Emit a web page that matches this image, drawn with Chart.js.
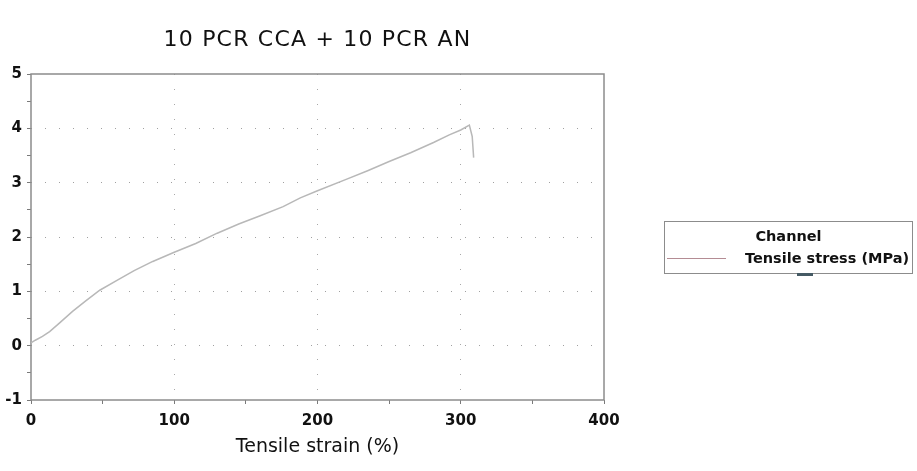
<!DOCTYPE html>
<html>
<head>
<meta charset="utf-8">
<script src="https://cdn.jsdelivr.net/npm/chart.js@4.4.1/dist/chart.umd.min.js"></script>
<style>
  body { margin: 0; background: #fff; font-family: "DejaVu Sans", sans-serif; }
  #wrap { position: relative; width: 917px; height: 471px; }
  #legend { position: absolute; left: 664px; top: 221px; width: 247px; height: 51px; border: 1px solid #8c8c8c; color: #111; font-size: 14.5px; font-weight: bold; }
  #legend .head { text-align: center; margin-top: 6px; }
  #legend .row { display: flex; align-items: center; margin-top: 6px; white-space: nowrap; }
  #legend .swatch { width: 59px; height: 0; border-top: 1.5px solid; margin-left: 2px; margin-right: 19px; }
  #legend .mark { position: absolute; left: 132px; top: 51px; width: 16px; height: 3px; background: #455a64; }
</style>
</head>
<body>
<div id="wrap">
  <canvas id="tensileChart" width="917" height="471"></canvas>
  <div id="legend"></div>
</div>
<script>
const chartTitle = '10 PCR CCA + 10 PCR AN';
const legendTitle = 'Channel';
const seriesLabel = 'Tensile stress (MPa)';
const xTitle = 'Tensile strain (%)';
const strain = [0, 3, 8, 13, 20, 29, 38, 48, 60, 72, 85, 100, 115, 130, 145, 160, 176, 188, 200, 220, 235, 250, 265, 281, 292, 300, 306, 308, 309];
const stress = [0.05, 0.1, 0.17, 0.26, 0.42, 0.63, 0.82, 1.02, 1.2, 1.38, 1.55, 1.72, 1.88, 2.07, 2.24, 2.39, 2.56, 2.72, 2.85, 3.06, 3.22, 3.39, 3.55, 3.74, 3.88, 3.97, 4.06, 3.85, 3.46];
const lineColor = '#b8b8b8';
const legendColor = '#b48c94';

const points = strain.map((x, i) => ({ x, y: stress[i] }));

const frame = {
  id: 'frame',
  beforeDatasetsDraw(chart) {
    const { ctx, chartArea: a } = chart;
    ctx.save();
    ctx.strokeStyle = '#8c8c8c';
    ctx.lineWidth = 1.5;
    ctx.strokeRect(a.left, a.top, a.right - a.left, a.bottom - a.top);
    ctx.restore();
  },
  afterDraw(chart) {
    const { ctx, chartArea: a } = chart;
    ctx.save();
    ctx.font = '22px "DejaVu Sans"';
    ctx.letterSpacing = '1.2px';
    ctx.fillStyle = '#111';
    ctx.textAlign = 'center';
    ctx.textBaseline = 'middle';
    ctx.fillText(chartTitle, (a.left + a.right) / 2, 40);
    ctx.restore();
  }
};

const ctx = document.getElementById('tensileChart').getContext('2d');
const chart = new Chart(ctx, {
  type: 'line',
  data: { datasets: [{ label: seriesLabel, data: points, borderColor: lineColor, borderWidth: 1.5, pointRadius: 0, tension: 0 }] },
  options: {
    responsive: false,
    animation: false,
    layout: { padding: { top: 74, right: 313, left: 0, bottom: 0 } },
    plugins: { legend: { display: false }, tooltip: { enabled: false } },
    scales: {
      x: {
        type: 'linear', min: 0, max: 400,
        afterFit: s => { s.height = 71; },
        ticks: { stepSize: 50, autoSkip: false, maxRotation: 0, padding: 8, color: '#111',
          font: { family: 'DejaVu Sans', size: 15, weight: 'bold' },
          callback: v => (v % 100 === 0 ? v : '') },
        grid: { tickLength: 4, tickColor: '#7a7a7a',
          color: c => (c.tick && c.tick.value % 100 === 0 && c.tick.value > 0 && c.tick.value < 400 ? '#a8a8a8' : 'transparent') },
        border: { display: false, dash: [1, 14] },
        title: { display: true, text: xTitle, color: '#111', font: { family: 'DejaVu Sans', size: 19 }, padding: { top: 4, bottom: 13 } }
      },
      y: {
        min: -1, max: 5,
        afterFit: s => { s.width = 31; },
        ticks: { stepSize: 0.5, autoSkip: false, padding: 5, color: '#111',
          font: { family: 'DejaVu Sans', size: 15, weight: 'bold' },
          callback: v => (Number.isInteger(v) ? v : '') },
        grid: { tickLength: 4, tickColor: '#7a7a7a',
          color: c => (c.tick && Number.isInteger(c.tick.value) && c.tick.value > -1 && c.tick.value < 5 ? '#a0a0a0' : 'transparent') },
        border: { display: false, dash: [1, 13] }
      }
    }
  },
  plugins: [frame]
});

// legend from the dataset
const legendDiv = document.getElementById('legend');
const ds = chart.data.datasets[0];
legendDiv.innerHTML = '<div class="head">' + legendTitle + '</div>' +
  '<div class="row"><div class="swatch" style="border-color:' + legendColor + '"></div><span>' + ds.label + '</span></div>' +
  '<div class="mark"></div>';
</script>
</body>
</html>
